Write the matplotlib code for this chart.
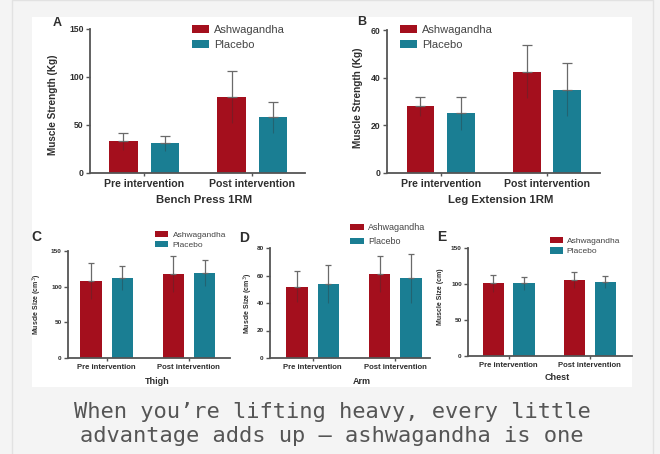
import numpy as np
import matplotlib
matplotlib.use("Agg")
import matplotlib.pyplot as plt
from matplotlib.patches import Rectangle, Patch

plt.rcParams["font.family"] = ["Liberation Sans", "DejaVu Sans"]

W, H = 660, 454

groups = ["Pre intervention", "Post intervention"]
series_names = ["Ashwagandha", "Placebo"]

bench_ashwa = [33, 79]
bench_ashwa_err = [9, 27]
bench_plac = [31, 58]
bench_plac_err = [8, 16]

leg_ashwa = [28, 42.5]
leg_ashwa_err = [4, 11]
leg_plac = [25, 35]
leg_plac_err = [7, 11]

thigh_ashwa = [108, 118]
thigh_ashwa_err = [25, 25]
thigh_plac = [112, 119]
thigh_plac_err = [17, 18]

arm_ashwa = [52, 61]
arm_ashwa_err = [11, 13]
arm_plac = [54, 58]
arm_plac_err = [14, 18]

chest_ashwa = [101, 105]
chest_ashwa_err = [12, 11]
chest_plac = [101, 103]
chest_plac_err = [9, 8]

caption = "When you\u2019re lifting heavy, every little\nadvantage adds up \u2014 ashwagandha is one"

RED = "#a40f1d"
TEAL = "#1a7e93"
AXC = "#555555"
TXT = "#2e2e2e"


def fx(x):
    return x / W


def fy(y):
    return 1 - y / H


fig = plt.figure(figsize=(W / 100, H / 100), dpi=100)
fig.patch.set_facecolor("#f4f4f4")

# page frame and the white picture area (behind the axes)
fig.add_artist(Rectangle((fx(12), fy(470)), fx(641), 470 / H, transform=fig.transFigure,
                         facecolor="#f4f4f4", edgecolor="#e2e2e2", lw=1, zorder=-2))
fig.add_artist(Rectangle((fx(32), fy(387)), fx(600), 370 / H, transform=fig.transFigure,
                         facecolor="white", edgecolor="none", zorder=-1))


def panel(box, xlim, ylim, yticks, a, p, a_err, p_err, small):
    left, right, top, bottom = box
    ax = fig.add_axes([fx(left), fy(bottom), fx(right - left), (bottom - top) / H])
    ax.set_facecolor("none")
    x = np.arange(len(groups))
    off, bw = 0.19, 0.26
    ax.bar(x - off, a, bw, color=RED, zorder=2)
    ax.bar(x + off, p, bw, color=TEAL, zorder=2)
    cap = 2.5 if small else 3.5
    for xs, vals, errs in [(x - off, a, a_err), (x + off, p, p_err)]:
        z = np.zeros(len(vals))
        ax.errorbar(xs, vals, yerr=[z, errs], fmt="none", ecolor="#6a6a6a",
                    elinewidth=0.9, capsize=cap, capthick=0.9, zorder=3)
        ax.errorbar(xs, vals, yerr=[errs, z], fmt="none", ecolor="#333333",
                    elinewidth=0.8, alpha=0.35, zorder=3)
    ax.set_xlim(*xlim)
    ax.set_ylim(*ylim)
    ax.set_yticks(yticks)
    ax.set_xticks(x)
    ax.set_xticklabels(groups)
    for s in ["top", "right"]:
        ax.spines[s].set_visible(False)
    for s in ["left", "bottom"]:
        ax.spines[s].set_color(AXC)
        ax.spines[s].set_linewidth(1.3)
    fs = 4.6 if small else 6.2
    xfs = 5.6 if small else 7.6
    ax.tick_params(axis="y", length=3, width=1, color=AXC, labelsize=fs, pad=1.5,
                   labelcolor=TXT)
    ax.tick_params(axis="x", length=2, width=1, color=AXC, labelsize=xfs,
                   pad=2, labelcolor=TXT)
    for lab in ax.get_xticklabels() + ax.get_yticklabels():
        lab.set_fontweight("bold")
    return ax


def legend(ax, x, y, fs, hl, sp):
    handles = [Patch(facecolor=RED), Patch(facecolor=TEAL)]
    ax.legend(handles, series_names, loc="upper left", bbox_to_anchor=(fx(x), fy(y)),
              bbox_transform=fig.transFigure, frameon=False, fontsize=fs,
              handlelength=hl, handleheight=0.75, handletextpad=0.5,
              labelspacing=sp, borderpad=0, borderaxespad=0, labelcolor="#444444")


def label(x, y, s, size, rot=0, weight="bold"):
    fig.text(fx(x), fy(y), s, ha="center", va="center", fontsize=size, rotation=rot,
             fontweight=weight, color=TXT)


# A - bench press
axA = panel((90, 305, 29, 173), (-0.5, 1.49), (0, 150), [0, 50, 100, 150],
            bench_ashwa, bench_plac, bench_ashwa_err, bench_plac_err, False)
legend(axA, 192, 25, 8, 1.5, 0.45)
label(57, 23, "A", 9)
label(53, 105, "Muscle Strength (Kg)", 7.2, 90)
label(204, 200, "Bench Press 1RM", 8.2)

# B - leg extension
axB = panel((387, 600, 30, 173), (-0.505, 1.5), (0, 60), [0, 20, 40, 60],
            leg_ashwa, leg_plac, leg_ashwa_err, leg_plac_err, False)
legend(axB, 400, 25, 8, 1.5, 0.45)
label(362, 22, "B", 9)
label(358, 98, "Muscle Strength (Kg)", 7.2, 90)
label(501, 200, "Leg Extension 1RM", 8.2)

# C - thigh
axC = panel((68, 230, 251, 358), (-0.47, 1.5), (0, 150), [0, 50, 100, 150],
            thigh_ashwa, thigh_plac, thigh_ashwa_err, thigh_plac_err, True)
legend(axC, 155, 231, 6, 1.6, 0.25)
label(36, 237, "C", 10)
label(37, 304, "Muscle Size (cm$^3$)", 5, 90)
label(157, 382, "Thigh", 6.5)

# D - arm
axD = panel((270, 430, 248, 358), (-0.515, 1.42), (0, 80), [0, 20, 40, 60, 80],
            arm_ashwa, arm_plac, arm_ashwa_err, arm_plac_err, True)
legend(axD, 350, 223, 6.5, 1.5, 0.55)
label(244, 238, "D", 10)
label(248, 303, "Muscle Size (cm$^3$)", 5, 90)
label(362, 382, "Arm", 6.5)

# E - chest
axE = panel((468, 632, 248, 356), (-0.5, 1.52), (0, 150), [0, 50, 100, 150],
            chest_ashwa, chest_plac, chest_ashwa_err, chest_plac_err, True)
legend(axE, 550, 237, 6, 1.5, 0.3)
label(442, 237, "E", 10)
label(440, 297, "Muscle Size (cm)", 5, 90)
label(557, 378, "Chest", 6.5)

fig.text(fx(332), fy(424), caption, ha="center", va="center", fontsize=15.8,
         family="DejaVu Sans Mono", color="#555555", linespacing=1.25)

fig.savefig("out.png", dpi=100, facecolor=fig.get_facecolor())
